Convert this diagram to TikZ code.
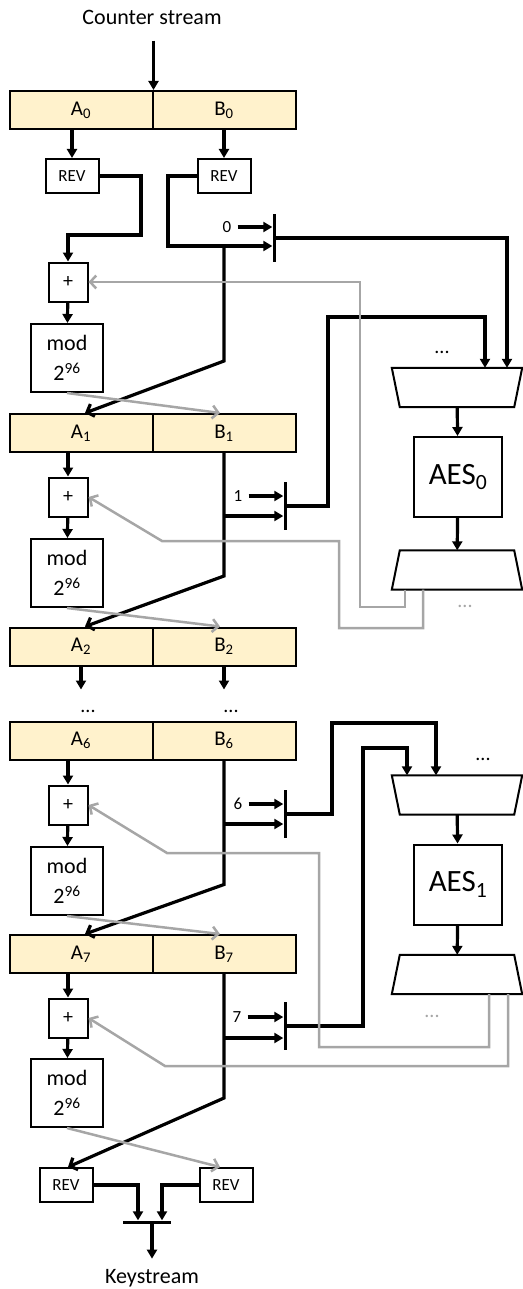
\documentclass[tikz,border=0pt]{standalone}
\usepackage{fontspec}
\setmainfont{Carlito}
\usepackage{tikz}
\usetikzlibrary{arrows.meta, positioning, calc}
\definecolor{regfill}{HTML}{FFF2CC}
\definecolor{fbgrey}{HTML}{A6A6A6}
\newcommand{\fsz}[1]{\fontsize{#1}{#1}\selectfont}
% trapezoid drawn inside the frame of a named node: top inset, bottom inset
\newcommand{\trapshape}[3]{%
  \draw[line width=2pt, fill=white, line join=miter]
    ([xshift=#2]#1.north west) -- ([xshift=-#2]#1.north east)
    -- ([xshift=-#3]#1.south east) -- ([xshift=#3]#1.south west) -- cycle;}

\begin{document}
\begin{tikzpicture}[
    x=1pt, y=-1pt,
    regbox/.style={draw=black, fill=regfill, line width=2pt, minimum width=143pt,
                   minimum height=38pt, inner sep=0pt, font=\fsz{21}},
    revbox/.style={draw=black, fill=white, line width=2pt, minimum width=53pt,
                   minimum height=34pt, inner sep=0pt, font=\fsz{17}},
    addbox/.style={draw=black, fill=white, line width=2pt, minimum size=39pt,
                   inner sep=0pt, font=\fsz{20}},
    modbox/.style={draw=black, fill=white, line width=2pt, minimum width=72pt,
                   minimum height=68pt, inner sep=0pt, align=center,
                   font=\fontsize{22}{30}\selectfont},
    aesbox/.style={draw=black, fill=white, line width=2pt, minimum width=88pt,
                   minimum height=80pt, inner sep=0pt, font=\fsz{31}},
    muxbox/.style={minimum width=130pt, minimum height=39pt, inner sep=0pt},
    selbar/.style={fill=black, minimum width=3pt, minimum height=48pt, inner sep=0pt},
    joinbar/.style={fill=black, minimum width=48pt, minimum height=3pt, inner sep=0pt},
    sellabel/.style={font=\fsz{17}, inner sep=2pt},
    dots/.style={font=\fsz{20}, inner sep=0pt},
    greydots/.style={dots, text=fbgrey},
    line/.style={draw=black, line width=3.2pt, -{Triangle[length=9pt,width=10pt]}},
    bentline/.style={draw=black, line width=3.2pt, -{Straight Barb[length=6pt,width=13pt]}},
    greyline/.style={draw=fbgrey, line width=2.5pt, -{Straight Barb[length=6pt,width=13pt]}}
]
  \useasboundingbox (0,0) rectangle (522,1289);

  % Input and round 0
  \node[font=\fsz{22}] (cs) at (152,17) {Counter stream};
  \node[regbox] (A0) at (81,110)  {A\textsubscript{0}};
  \node[regbox] (B0) at (224,110) {B\textsubscript{0}};
  \node[revbox] (revA0) at (72,176)  {REV};
  \node[revbox] (revB0) at (224,176) {REV};
  \node[addbox] (add0) at (68,282) {+};
  \node[modbox] (mod0) at (67,358) {mod\\2\textsuperscript{96}};
  \node[selbar] (bar0) at (274,238) {};
  \node[sellabel] (k0) at (227,227) {0};

  % Rounds 1 and 2
  \node[regbox] (A1) at (81,433)  {A\textsubscript{1}};
  \node[regbox] (B1) at (224,433) {B\textsubscript{1}};
  \node[addbox] (add1) at (68,497) {+};
  \node[modbox] (mod1) at (67,573) {mod\\2\textsuperscript{96}};
  \node[selbar] (bar1) at (285,506) {};
  \node[sellabel] (k1) at (238,496) {1};
  \node[regbox] (A2) at (81,646.5)  {A\textsubscript{2}};
  \node[regbox] (B2) at (224,646.5) {B\textsubscript{2}};
  \node[dots] (dA) at (88,711)  {...};
  \node[dots] (dB) at (231,711) {...};

  % Rounds 6 and 7
  \node[regbox] (A6) at (81,740.5)  {A\textsubscript{6}};
  \node[regbox] (B6) at (224,740.5) {B\textsubscript{6}};
  \node[addbox] (add6) at (68,805) {+};
  \node[modbox] (mod6) at (67,881) {mod\\2\textsuperscript{96}};
  \node[selbar] (bar6) at (285,814) {};
  \node[sellabel] (k6) at (238,804) {6};
  \node[regbox] (A7) at (81,954)  {A\textsubscript{7}};
  \node[regbox] (B7) at (224,954) {B\textsubscript{7}};
  \node[addbox] (add7) at (68,1018) {+};
  \node[modbox] (mod7) at (67,1093) {mod\\2\textsuperscript{96}};
  \node[selbar] (bar7) at (285,1026) {};
  \node[sellabel] (k7) at (237,1017) {7};

  % Output
  \node[revbox] (revA1) at (66,1185)  {REV};
  \node[revbox] (revB1) at (226,1185) {REV};
  \node[joinbar] (outbar) at (147,1222) {};
  \node[font=\fsz{22}] (ks) at (152,1278) {Keystream};

  % AES blocks
  \node[muxbox]   (trap0)  at (457,387.5) {};
  \node[aesbox]   (aes0)   at (458,477)   {AES\textsubscript{0}};
  \node[muxbox]   (trap0b) at (457,570)   {};
  \node[dots]     (dm0)    at (442,352)   {...};
  \node[greydots] (dg0)    at (465,606)   {...};
  \node[muxbox]   (trap1)  at (457,795)   {};
  \node[aesbox]   (aes1)   at (458,884.5) {AES\textsubscript{1}};
  \node[muxbox]   (trap1b) at (457,974.5) {};
  \node[dots]     (dm1)    at (483,759)   {...};
  \node[greydots] (dg1)    at (432,1016)  {...};
  \trapshape{trap0}{0pt}{8pt}
  \trapshape{trap0b}{8pt}{0pt}
  \trapshape{trap1}{0pt}{8pt}
  \trapshape{trap1b}{8pt}{0pt}

  \path (bar0.west) ++(0,8)  coordinate (bar0lo);
  \path (bar1.west) ++(0,10) coordinate (bar1lo);
  \path (bar6.west) ++(0,10) coordinate (bar6lo);
  \path (bar7.west) ++(0,12) coordinate (bar7lo);

  % Round 0 wiring
  \draw[line, shorten <=13pt] (A0.north east |- cs.south) -- (A0.north east);
  \draw[line] (revA0.north |- A0.south) -- (revA0.north);
  \draw[line] (B0.south) -- (revB0.north);
  \draw[line] (revA0.east) -| (141,235) -| (add0.north);
  \draw[line] (revB0.west) -| (168,246) -- (bar0lo);
  \draw[line, shorten <=4pt] (k0.east) -- (k0.east -| bar0.west);
  \draw[line] (bar0.east) -| ([xshift=50pt]trap0.north);
  \draw[bentline] (bar0lo -| B0.south) -- ++(0,115) -- ([xshift=4pt]A1.north);
  \draw[line] (add0) -- (mod0);
  \draw[greyline] (mod0.south) -- ([xshift=-4pt]B1.north);

  % Round 1 wiring
  \draw[line] (add1.north |- A1.south) -- (add1.north);
  \draw[line] (add1) -- (mod1);
  \draw[line] (bar1lo -| B1.south) -- (bar1lo);
  \draw[line, shorten <=4pt] (k1.east) -- (k1.east -| bar1.west);
  \draw[line] (bar1.east) -| (328,317) -| ([xshift=28pt]trap0.north);
  \draw[bentline] (B1.south) -- ++(0,123) -- ([xshift=4pt]A2.north);
  \draw[greyline] (mod1.south) -- ([xshift=-4pt]B2.north);
  \draw[line] (A2.south) -- ++(0,23);
  \draw[line] (B2.south) -- ++(0,23);

  % AES0 and its feedback
  \draw[line] (trap0) -- (aes0);
  \draw[line] (aes0) -- (trap0b);
  \draw[greyline] ([xshift=-52pt]trap0b.south) |- (360,607) |- (add0.east);
  \draw[greyline] ([xshift=-34pt]trap0b.south) |- (339,628) |- (162,541) -- (add1.east);

  % Round 6 wiring
  \draw[line] (add6.north |- A6.south) -- (add6.north);
  \draw[line] (add6) -- (mod6);
  \draw[line] (bar6lo -| B6.south) -- (bar6lo);
  \draw[line, shorten <=4pt] (k6.east) -- (k6.east -| bar6.west);
  \draw[line] (bar6.east) -| (332,723) -| ([xshift=-21pt]trap1.north);
  \draw[bentline] (B6.south) -- ++(0,124) -- ([xshift=4pt]A7.north);
  \draw[greyline] (mod6.south) -- ([xshift=-4pt]B7.north);

  % Round 7 wiring
  \draw[line] (add7.north |- A7.south) -- (add7.north);
  \draw[line] (add7) -- (mod7);
  \draw[line] (bar7lo -| B7.south) -- (bar7lo);
  \draw[line, shorten <=4pt] (k7.east) -- (k7.east -| bar7.west);
  \draw[line] (bar7.east) -| (363,748) -| ([xshift=-50pt]trap1.north);
  \draw[bentline] (B7.south) -- ++(0,124) -- ([xshift=2pt]revA1.north);
  \draw[greyline] (mod7.south) -- ([xshift=-6pt]revB1.north);

  % AES1 and its feedback
  \draw[line] (trap1) -- (aes1);
  \draw[line] (aes1) -- (trap1b);
  \draw[greyline] ([xshift=32pt]trap1b.south) |- (319,1047) |- (167,853) -- (add6.east);
  \draw[greyline] ([xshift=51pt]trap1b.south) |- (165,1066) -- (add7.east);

  % Keystream
  \draw[line] (revA1.east) -| ([xshift=-9pt]outbar.north);
  \draw[line] (revB1.west) -| ([xshift=15pt]outbar.north);
  \draw[line, shorten >=7pt] (outbar.south -| ks.north) -- (ks.north);
\end{tikzpicture}
\end{document}
